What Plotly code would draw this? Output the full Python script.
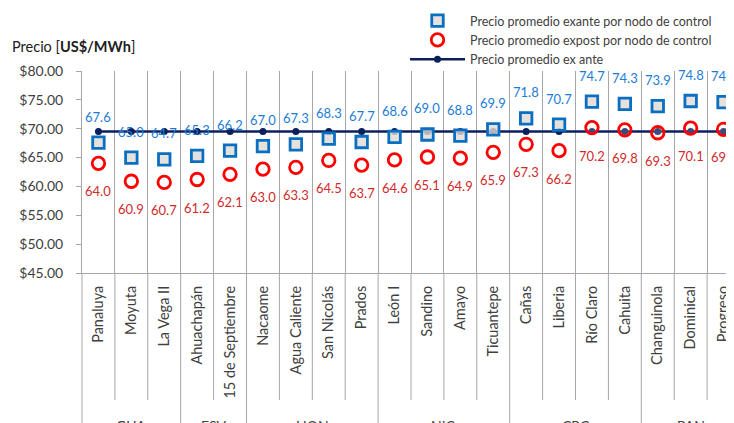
import plotly.graph_objects as go

categories = ["Panaluya", "Moyuta", "La Vega II", "Ahuachapán", "15 de Septiembre",
              "Nacaome", "Agua Caliente", "San Nicolás", "Prados",
              "León I", "Sandino", "Amayo", "Ticuantepe",
              "Cañas", "Liberia", "Río Claro", "Cahuita",
              "Changuinola", "Dominical", "Progreso"]
groups = ["GUA", "ESV", "HON", "NIC", "CRC", "PAN"]
group_sizes = [3, 2, 4, 4, 4, 3]
exante = [67.6, 65.0, 64.7, 65.3, 66.2, 67.0, 67.3, 68.3, 67.7, 68.6,
          69.0, 68.8, 69.9, 71.8, 70.7, 74.7, 74.3, 73.9, 74.8, 74.6]
expost = [64.0, 60.9, 60.7, 61.2, 62.1, 63.0, 63.3, 64.5, 63.7, 64.6,
          65.1, 64.9, 65.9, 67.3, 66.2, 70.2, 69.8, 69.3, 70.1, 69.9]
avg_exante = [69.5] * 20

FONT = "Lato"
GREY = "#404040"
LINEC = "#A6A6A6"
OFF = 8  # page body margin offset
W, H = 734 - OFF, 423 - OFF
ML, MT = 82 - OFF, 71 - OFF
PLOT_BOTTOM = 273 - OFF
MB = H - PLOT_BOTTOM
PLOT_H = PLOT_BOTTOM - MT
CAT_W = 32.9
xr0 = -0.5
xr1 = xr0 + (W - ML) / CAT_W

def px(b):
    return (b - xr0) / (xr1 - xr0)

def pxr(ref_pix):
    return (ref_pix - OFF - ML) / (W - ML)

def py(ref_pix):
    return (PLOT_BOTTOM - (ref_pix - OFF)) / PLOT_H

fig = go.Figure()
fig.add_trace(go.Scatter(
    x=categories, y=avg_exante, mode="lines+markers", name="Precio promedio ex ante",
    line=dict(color="#0B1F5C", width=2.5), marker=dict(size=7, color="#0B1F5C"),
    legendrank=3))
fig.add_trace(go.Scatter(
    x=categories, y=exante, mode="markers", name="Precio promedio exante por nodo de control",
    marker=dict(symbol="square", size=11.5, color="rgba(222,219,212,0.8)",
                line=dict(color="#0A6FC2", width=2.8)),
    legendrank=1))
fig.add_trace(go.Scatter(
    x=categories, y=expost, mode="markers", name="Precio promedio expost por nodo de control",
    marker=dict(symbol="circle", size=12.5, color="rgba(255,255,255,0.2)",
                line=dict(color="#FF0000", width=2.8)),
    legendrank=2))

annotations = []
for c, v in zip(categories, exante):
    annotations.append(dict(x=c, y=v, xref="x", yref="y", text=f"{v:.1f}", showarrow=False,
                            yshift=26, font=dict(family=FONT, size=13, color="#1C7CD5")))
for c, v in zip(categories, expost):
    annotations.append(dict(x=c, y=v, xref="x", yref="y", text=f"{v:.1f}", showarrow=False,
                            yshift=-28, font=dict(family=FONT, size=13, color="#D02A2A")))

shapes = []
starts = []
s = 0
for g, n in zip(groups, group_sizes):
    starts.append(s)
    annotations.append(dict(x=px(s - 0.5 + n / 2), y=py(425), xref="paper", yref="paper",
                            text=g, showarrow=False, xanchor="center", yanchor="middle",
                            font=dict(family=FONT, size=14, color=GREY)))
    s += n
for i in range(len(categories)):
    b = i - 0.5
    y1 = py(440) if i in starts else py(400)
    shapes.append(dict(type="line", xref="paper", yref="paper", x0=px(b), x1=px(b),
                       y0=0, y1=y1, line=dict(color=LINEC, width=1)))

annotations.append(dict(x=pxr(10), y=py(47), xref="paper", yref="paper",
                        text="Precio [<b>US$/MWh</b>]", showarrow=False,
                        xanchor="left", yanchor="middle",
                        font=dict(family=FONT, size=14.5, color="#202020")))

fig.update_layout(
    width=W, height=H, margin=dict(l=ML, r=0, t=MT, b=MB, autoexpand=False),
    plot_bgcolor="white", paper_bgcolor="white",
    font=dict(family=FONT, color=GREY),
    showlegend=True,
    legend=dict(x=pxr(405), y=py(6), xanchor="left", yanchor="top",
                font=dict(family=FONT, size=12.5, color=GREY), bgcolor="rgba(0,0,0,0)",
                itemwidth=55, tracegroupgap=0),
    annotations=annotations, shapes=shapes,
    xaxis=dict(type="category", categoryorder="array", categoryarray=categories,
               range=[xr0, xr1], tickson="boundaries", showgrid=True, gridcolor=LINEC,
               gridwidth=1, showline=True, linecolor=LINEC, ticks="", tickangle=-90,
               ticklabelstandoff=6, tickfont=dict(family=FONT, size=14.5, color=GREY),
               zeroline=False, fixedrange=True),
    yaxis=dict(range=[45, 80], dtick=5, tickprefix="$", tickformat=".2f", showgrid=False,
               showline=True, linecolor=LINEC, ticks="outside", ticklen=5, tickcolor=LINEC,
               ticklabelstandoff=10,
               tickfont=dict(family=FONT, size=14, color=GREY), zeroline=False),
)

fig.write_html("out.html")
